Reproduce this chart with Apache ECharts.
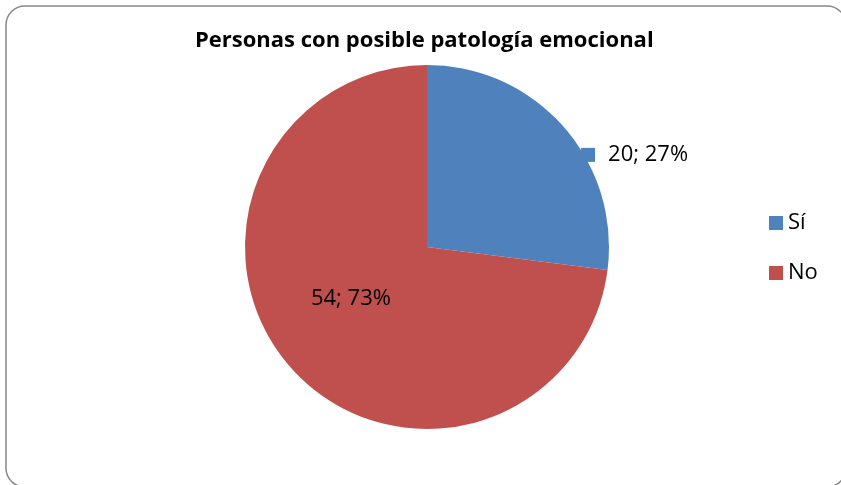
<!DOCTYPE html>
<html>
<head>
<meta charset="utf-8">
<script src="https://cdn.jsdelivr.net/npm/echarts@6/dist/echarts.min.js"></script>
<style>
  html, body { margin: 0; padding: 0; background: #fff; }
  #chart { width: 841px; height: 485px; }
</style>
</head>
<body>
<div id="chart"></div>
<script>
// datos
const categories = ['Sí', 'No']
const values = [20, 54]
const colors = ['#4F81BD', '#C0504D']
const titleText = 'Personas con posible patología emocional'

const chart = echarts.init(document.getElementById('chart'))

const pieData = categories.map((name, i) => ({
  name: name,
  value: values[i],
  itemStyle: { color: colors[i] },
}))

const labelText = (p) => {
  const txt = p.value + '; ' + Math.round(p.percent) + '%'
  return p.dataIndex === 0 ? '{sq|}{t|' + txt + '}' : '{t|' + txt + '}'
}

const option = {
  animation: false,
  backgroundColor: '#fff',
  graphic: [
    {
      type: 'rect',
      shape: { x: 6, y: 6, width: 840, height: 481, r: 19 },
      style: { fill: 'none', stroke: '#888', lineWidth: 1.5 },
      z: -1,
    },
  ],
  title: {
    text: titleText,
    left: 195,
    top: 30,
    padding: 0,
    textStyle: {
      fontFamily: 'Open Sans',
      fontWeight: 'bold',
      fontSize: 22,
      color: '#000',
    },
  },
  legend: {
    orient: 'vertical',
    left: 769,
    top: 212,
    padding: 0,
    itemWidth: 14,
    itemHeight: 14,
    itemGap: 28,
    itemTextGap: 7,
    icon: 'rect',
    data: categories,
    textStyle: { fontFamily: 'Open Sans', fontSize: 22, color: '#000' },
  },
  series: [
    {
      type: 'pie',
      center: [427, 247],
      radius: 182,
      startAngle: 90,
      clockwise: true,
      data: pieData,
      label: {
        show: true,
        position: 'inside',
        formatter: labelText,
        rich: {
          sq: { width: 14, height: 14, backgroundColor: colors[0] },
          t: { fontFamily: 'Open Sans', fontSize: 22, color: '#000', padding: [0, 0, 0, 13] },
        },
      },
      labelLine: { show: false },
      labelLayout: (params) =>
        params.dataIndex === 0 ? { dx: 137, dy: -30 } : { dx: -12, dy: -10 },
      emphasis: { disabled: true },
    },
  ],
}

chart.setOption(option)
</script>
</body>
</html>
